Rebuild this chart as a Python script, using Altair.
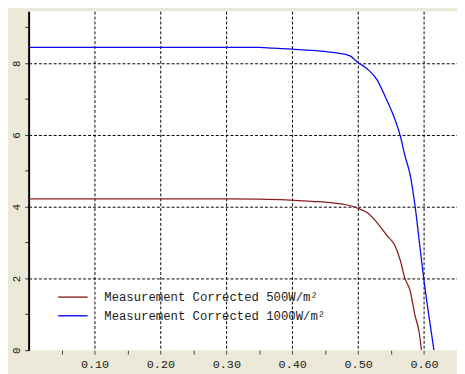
import altair as alt
import pandas as pd

# ---- data ----
v1000 = [0.00, 0.05, 0.10, 0.15, 0.20, 0.25, 0.30, 0.35, 0.37, 0.40, 0.43, 0.449, 0.467,
         0.487, 0.499, 0.514, 0.529, 0.541, 0.554, 0.564, 0.571, 0.579, 0.5865, 0.593,
         0.5995, 0.607, 0.615]
i1000 = [8.44, 8.44, 8.44, 8.44, 8.44, 8.44, 8.44, 8.44, 8.42, 8.39, 8.36, 8.33, 8.29,
         8.21, 8.03, 7.84, 7.53, 7.07, 6.52, 5.97, 5.42, 4.88, 4.00, 3.00,
         2.00, 1.00, 0.00]

v500 = [0.00, 0.05, 0.10, 0.15, 0.20, 0.25, 0.30, 0.35, 0.39, 0.43, 0.464, 0.485,
        0.499, 0.514, 0.529, 0.544, 0.556, 0.564, 0.571, 0.579, 0.586, 0.593, 0.596]
i500 = [4.22, 4.22, 4.22, 4.22, 4.22, 4.22, 4.22, 4.21, 4.19, 4.15, 4.10, 4.04,
        3.96, 3.83, 3.55, 3.19, 2.91, 2.50, 2.00, 1.65, 0.99, 0.45, 0.00]

series_names = ["Measurement Corrected 500W/m\u00b2", "Measurement Corrected 1000W/m\u00b2"]
series_colors = ["#8B1F1F", "#0A0AF0"]

x_ticks = [0.05, 0.10, 0.15, 0.20, 0.25, 0.30, 0.35, 0.40, 0.45, 0.50, 0.55, 0.60, 0.65]
y_ticks = [0, 1, 2, 3, 4, 5, 6, 7, 8, 9]

rows = []
for v, i in zip(v500, i500):
    rows.append({"V": v, "I": i, "series": series_names[0]})
for v, i in zip(v1000, i1000):
    rows.append({"V": v, "I": i, "series": series_names[1]})
df = pd.DataFrame(rows)

FONT = "Liberation Mono"

chart = alt.Chart(df).mark_line(strokeWidth=1.3, clip=True, interpolate="monotone").encode(
    x=alt.X("V:Q", scale=alt.Scale(domain=[0, 0.65], nice=False, zero=False),
            axis=alt.Axis(
                values=x_ticks, title=None, domain=False,
                ticks=True, tickSize=4, tickColor="#444", tickWidth=1,
                labelExpr="round(datum.value*20) % 2 == 1 ? '' : format(datum.value, '.2f')",
                labelFont=FONT, labelFontSize=12, labelColor="#222", labelPadding=5,
                labelFlush=False,
                grid=True, gridColor="#000", gridDash=[3, 2], gridWidth=1,
                gridOpacity=alt.condition("round(datum.value*20) % 2 == 1", alt.value(0), alt.value(1)),
            )),
    y=alt.Y("I:Q", scale=alt.Scale(domain=[0, 9.45], nice=False, zero=False),
            axis=alt.Axis(
                values=y_ticks, title=None,
                domain=True, domainColor="#000", domainWidth=2,
                ticks=True, tickSize=4, tickColor="#333", tickWidth=1,
                labelExpr="datum.value % 2 == 1 ? '' : format(datum.value, 'd')",
                labelFont=FONT, labelFontSize=11, labelColor="#222",
                labelAngle=270, labelAlign="center", labelBaseline="middle",
                labelPadding=8, labelFlush=False,
                grid=True, gridColor="#000", gridDash=[3, 2], gridWidth=1,
                gridOpacity=alt.condition("datum.value % 2 == 1 || datum.value == 0", alt.value(0), alt.value(1)),
            )),
    color=alt.Color("series:N",
                    scale=alt.Scale(domain=series_names, range=series_colors),
                    legend=alt.Legend(
                        orient="none", legendX=34.5, legendY=280.5, title=None,
                        symbolType="M-1.58,0H1.58", symbolSize=361, symbolStrokeWidth=1.4,
                        labelFont=FONT, labelFontSize=12.5, labelColor="#222",
                        labelOffset=21.5, rowPadding=2, padding=0, labelLimit=0,
                    )),
).properties(
    width=436, height=345,
    autosize=alt.AutoSizeParams(type="none"),
    padding={"left": 21, "top": 0, "right": 0, "bottom": 21},
    background="#ECE9D8",
).configure_view(
    fill="white", stroke=None,
)

chart.save("out.html", embed_options={"renderer": "svg", "actions": False})
